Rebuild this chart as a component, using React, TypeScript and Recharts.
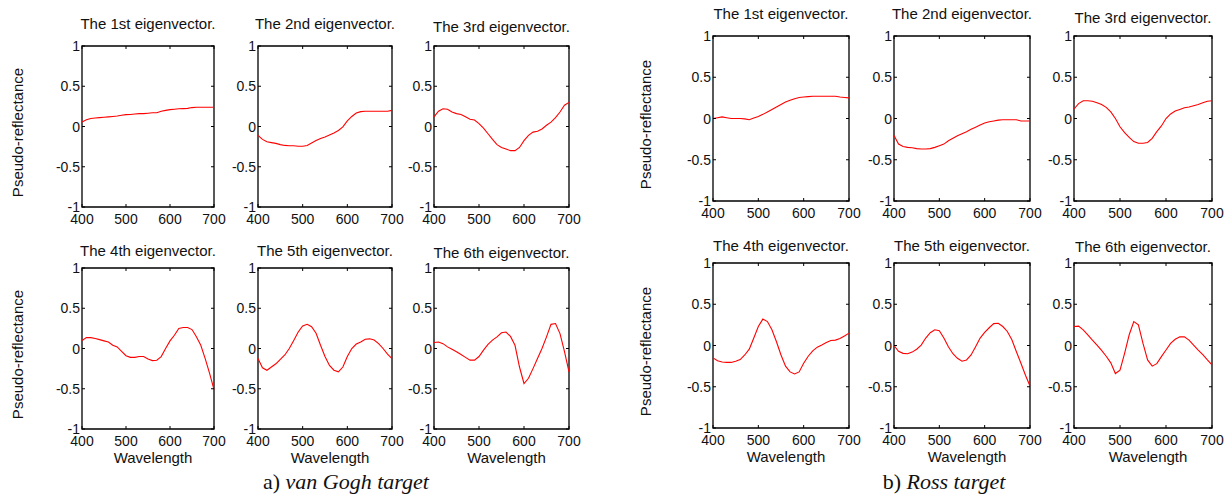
import { LineChart, Line, XAxis, YAxis, ReferenceArea } from "recharts";

const WAVELENGTHS = [
  400, 410, 420, 430, 440, 450, 460, 470, 480, 490, 500, 510, 520, 530, 540, 550,
  560, 570, 580, 590, 600, 610, 620, 630, 640, 650, 660, 670, 680, 690, 700,
];

const X_TICKS = [400, 500, 600, 700];
const Y_TICKS = [-1, -0.5, 0, 0.5, 1];

const TITLES = [
  "The 1st eigenvector.",
  "The 2nd eigenvector.",
  "The 3rd eigenvector.",
  "The 4th eigenvector.",
  "The 5th eigenvector.",
  "The 6th eigenvector.",
];

// van Gogh target
const VG_1 = [0.056, 0.085, 0.1, 0.105, 0.11, 0.115, 0.12, 0.125, 0.13, 0.14, 0.147, 0.15, 0.155, 0.16, 0.16, 0.165, 0.17, 0.17, 0.19, 0.2, 0.21, 0.215, 0.22, 0.222, 0.225, 0.235, 0.24, 0.24, 0.24, 0.24, 0.24];
const VG_2 = [-0.11, -0.16, -0.19, -0.2, -0.21, -0.225, -0.235, -0.24, -0.24, -0.245, -0.245, -0.235, -0.205, -0.175, -0.15, -0.13, -0.105, -0.08, -0.05, -0.005, 0.07, 0.125, 0.167, 0.185, 0.19, 0.19, 0.19, 0.19, 0.19, 0.19, 0.2];
const VG_3 = [0.12, 0.19, 0.22, 0.215, 0.18, 0.16, 0.15, 0.12, 0.09, 0.08, 0.035, -0.02, -0.09, -0.16, -0.225, -0.26, -0.28, -0.3, -0.3, -0.26, -0.175, -0.11, -0.07, -0.06, -0.03, 0.015, 0.055, 0.11, 0.18, 0.265, 0.3];
const VG_4 = [0.1, 0.135, 0.135, 0.125, 0.11, 0.095, 0.08, 0.04, 0.02, -0.035, -0.09, -0.11, -0.11, -0.1, -0.1, -0.13, -0.15, -0.145, -0.1, 0, 0.095, 0.165, 0.25, 0.26, 0.26, 0.235, 0.145, 0.04, -0.125, -0.31, -0.51];
const VG_5 = [-0.125, -0.24, -0.27, -0.23, -0.19, -0.135, -0.08, 0, 0.1, 0.205, 0.28, 0.3, 0.27, 0.19, 0.04, -0.1, -0.21, -0.27, -0.29, -0.23, -0.1, 0, 0.055, 0.08, 0.115, 0.12, 0.105, 0.06, 0, -0.07, -0.125];
const VG_6 = [0.075, 0.08, 0.06, 0.02, -0.01, -0.04, -0.075, -0.11, -0.145, -0.145, -0.1, -0.02, 0.05, 0.105, 0.145, 0.195, 0.205, 0.15, 0.04, -0.23, -0.435, -0.37, -0.25, -0.125, 0, 0.145, 0.3, 0.31, 0.185, -0.04, -0.29];

// Ross target
const ROSS_1 = [0, 0.01, 0.02, 0.01, 0, 0, 0, -0.005, -0.015, 0.005, 0.025, 0.05, 0.08, 0.11, 0.14, 0.17, 0.2, 0.22, 0.24, 0.255, 0.26, 0.265, 0.27, 0.27, 0.27, 0.27, 0.27, 0.27, 0.26, 0.255, 0.25];
const ROSS_2 = [-0.205, -0.31, -0.34, -0.35, -0.355, -0.365, -0.37, -0.37, -0.365, -0.35, -0.33, -0.31, -0.27, -0.24, -0.21, -0.185, -0.16, -0.13, -0.105, -0.08, -0.055, -0.04, -0.03, -0.02, -0.015, -0.015, -0.015, -0.015, -0.03, -0.03, -0.03];
const ROSS_3 = [0.115, 0.18, 0.215, 0.215, 0.21, 0.19, 0.17, 0.135, 0.08, 0, -0.1, -0.17, -0.23, -0.28, -0.3, -0.3, -0.29, -0.24, -0.16, -0.09, 0, 0.055, 0.09, 0.11, 0.13, 0.14, 0.155, 0.17, 0.19, 0.21, 0.215];
const ROSS_4 = [-0.15, -0.185, -0.2, -0.205, -0.205, -0.19, -0.17, -0.115, -0.045, 0.09, 0.23, 0.32, 0.29, 0.19, 0.045, -0.115, -0.25, -0.32, -0.345, -0.32, -0.215, -0.13, -0.065, -0.02, 0.005, 0.035, 0.06, 0.065, 0.085, 0.115, 0.15];
const ROSS_5 = [0, -0.07, -0.095, -0.1, -0.08, -0.045, 0.005, 0.09, 0.155, 0.19, 0.18, 0.09, -0.015, -0.1, -0.155, -0.19, -0.175, -0.115, -0.015, 0.09, 0.16, 0.215, 0.265, 0.27, 0.23, 0.17, 0.07, -0.075, -0.215, -0.36, -0.49];
const ROSS_6 = [0.23, 0.235, 0.19, 0.13, 0.065, 0.005, -0.06, -0.13, -0.21, -0.34, -0.3, -0.095, 0.13, 0.29, 0.25, 0.025, -0.175, -0.25, -0.22, -0.135, -0.055, 0.025, 0.075, 0.105, 0.105, 0.065, 0.005, -0.055, -0.11, -0.175, -0.235];

const toRows = (values: number[]) => WAVELENGTHS.map((w, i) => ({ w, v: values[i] }));

// plot-box layout in page pixels
const PANELS = [
  { series: VG_1, title: 0, x: 82, y: 46, w: 132, h: 161, tb: 29, yl: 23, xl: false },
  { series: VG_2, title: 1, x: 258, y: 46, w: 134, h: 161, tb: 29, yl: 0, xl: false },
  { series: VG_3, title: 2, x: 434, y: 46, w: 135, h: 161, tb: 32, yl: 0, xl: false },
  { series: VG_4, title: 3, x: 82, y: 268, w: 132, h: 161, tb: 256, yl: 23, xl: true },
  { series: VG_5, title: 4, x: 258, y: 268, w: 134, h: 161, tb: 256, yl: 0, xl: true },
  { series: VG_6, title: 5, x: 434, y: 268, w: 135, h: 161, tb: 258, yl: 0, xl: true },
  { series: ROSS_1, title: 0, x: 713, y: 36, w: 136, h: 165, tb: 19, yl: 651, xl: false },
  { series: ROSS_2, title: 1, x: 894, y: 36, w: 136, h: 165, tb: 19, yl: 0, xl: false },
  { series: ROSS_3, title: 2, x: 1074, y: 36, w: 138, h: 165, tb: 23, yl: 0, xl: false },
  { series: ROSS_4, title: 3, x: 713, y: 263, w: 136, h: 165, tb: 251, yl: 651, xl: true },
  { series: ROSS_5, title: 4, x: 894, y: 263, w: 136, h: 165, tb: 251, yl: 0, xl: true },
  { series: ROSS_6, title: 5, x: 1074, y: 263, w: 138, h: 165, tb: 252, yl: 0, xl: true },
];

const AXIS_W = 40;
const TOP_PAD = 12;
const AXIS_H = 25;
const RIGHT_PAD = 20;

function Panel({ p }: { p: (typeof PANELS)[number] }) {
  const xTick = (props: any) => {
    const { x, y, payload } = props;
    return (
      <g>
        <line x1={x} y1={y} x2={x} y2={y - 3} stroke="#000" />
        <line x1={x} y1={y - p.h} x2={x} y2={y - p.h + 3} stroke="#000" />
        <text x={x} y={y + 17} textAnchor="middle" fontSize={14} fill="#111">
          {payload.value}
        </text>
      </g>
    );
  };
  const yTick = (props: any) => {
    const { x, y, payload } = props;
    return (
      <g>
        <line x1={x} y1={y} x2={x + 3} y2={y} stroke="#000" />
        <line x1={x + p.w} y1={y} x2={x + p.w - 3} y2={y} stroke="#000" />
        <text x={x - 2} y={y + 5} textAnchor="end" fontSize={14} fill="#111">
          {payload.value}
        </text>
      </g>
    );
  };

  return (
    <div style={{ position: "absolute", left: p.x - AXIS_W, top: p.y - TOP_PAD }}>
      <LineChart
        width={AXIS_W + p.w + RIGHT_PAD}
        height={TOP_PAD + p.h + AXIS_H}
        data={toRows(p.series)}
        margin={{ top: TOP_PAD, right: RIGHT_PAD, left: 0, bottom: 0 }}
      >
        <XAxis
          dataKey="w"
          type="number"
          domain={[400, 700]}
          ticks={X_TICKS}
          interval={0}
          height={AXIS_H}
          axisLine={false}
          tickLine={false}
          tickSize={0}
          tickMargin={0}
          tick={xTick}
        />
        <YAxis
          type="number"
          domain={[-1, 1]}
          ticks={Y_TICKS}
          interval={0}
          width={AXIS_W}
          axisLine={false}
          tickLine={false}
          tickSize={0}
          tickMargin={0}
          tick={yTick}
        />
        <Line
          dataKey="v"
          type="linear"
          stroke="#ff0000"
          strokeWidth={1.1}
          dot={false}
          isAnimationActive={false}
        />
        <ReferenceArea x1={400} x2={700} y1={-1} y2={1} fill="none" stroke="#000" strokeWidth={1.3} />
      </LineChart>
    </div>
  );
}

export default function App() {
  return (
    <div
      style={{
        position: "absolute",
        left: 0,
        top: 0,
        width: 1231,
        height: 498,
        background: "#fff",
        fontFamily: "'Liberation Sans', Arial, sans-serif",
      }}
    >
      {PANELS.map((p, i) => (
        <Panel key={i} p={p} />
      ))}
      <svg
        width={1231}
        height={498}
        style={{ position: "absolute", left: 0, top: 0, pointerEvents: "none" }}
      >
        {PANELS.map((p, i) => (
          <g key={i}>
            <text x={p.x + p.w / 2} y={p.tb} textAnchor="middle" fontSize={15} fill="#111">
              {TITLES[p.title]}
            </text>
            {p.yl > 0 && (
              <text
                x={p.yl}
                y={p.y + p.h / 2 + 6}
                transform={`rotate(-90 ${p.yl} ${p.y + p.h / 2 + 6})`}
                textAnchor="middle"
                fontSize={15}
                fill="#111"
              >
                Pseudo-reflectance
              </text>
            )}
            {p.xl && (
              <text x={p.x + p.w / 2 + 5} y={p.y + p.h + 34} textAnchor="middle" fontSize={15} fill="#111">
                Wavelength
              </text>
            )}
          </g>
        ))}
        <text x={346} y={489} textAnchor="middle" fontSize={22} fill="#111" fontFamily="'Liberation Serif', 'Times New Roman', serif">
          a) <tspan fontStyle="italic">van Gogh target</tspan>
        </text>
        <text x={944} y={489} textAnchor="middle" fontSize={22} fill="#111" fontFamily="'Liberation Serif', 'Times New Roman', serif">
          b) <tspan fontStyle="italic">Ross target</tspan>
        </text>
      </svg>
    </div>
  );
}
